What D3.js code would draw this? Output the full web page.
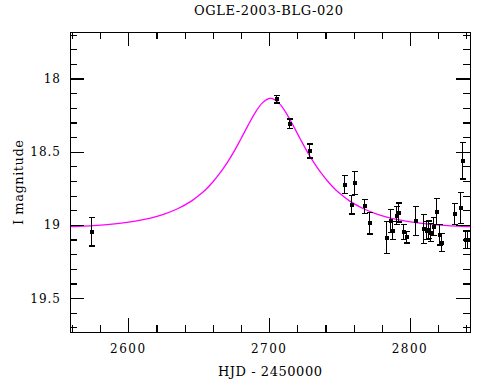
<!DOCTYPE html>
<html>
<head>
<meta charset="utf-8">
<script src="https://cdn.jsdelivr.net/npm/d3@7"></script>
<style>
  html, body { margin: 0; padding: 0; background: #fff; }
  svg { display: block; }
  text { font-family: "DejaVu Serif", "Liberation Serif", serif; fill: #000; }
</style>
</head>
<body>
<svg id="chart" width="490" height="380"></svg>
<script>
// ---- Data ----
const obsT = [2573.5, 2705.2, 2714.2, 2728.2, 2753.0, 2760.1, 2757.9, 2767.1, 2770.9, 2783.3,
              2786.1, 2787.0, 2789.9, 2791.5, 2795.0, 2796.9, 2803.3, 2809.2, 2811.1, 2812.8,
              2814.0, 2816.3, 2818.2, 2820.4, 2822.3, 2831.0, 2835.7, 2836.9, 2838.8, 2840.4];
const obsMag = [19.046, 18.142, 18.309, 18.495, 18.725, 18.715, 18.861, 18.872, 18.988, 19.087,
                18.973, 19.039, 18.937, 18.916, 19.050, 19.084, 18.973, 19.027, 19.039, 19.034,
                19.053, 19.012, 18.909, 19.068, 19.121, 18.925, 18.886, 18.561, 19.102, 19.102];
const obsErr = [0.098, 0.025, 0.033, 0.048, 0.061, 0.080, 0.064, 0.048, 0.075, 0.108,
                0.080, 0.060, 0.060, 0.065, 0.050, 0.040, 0.100, 0.100, 0.060, 0.060,
                0.060, 0.060, 0.090, 0.070, 0.060, 0.070, 0.105, 0.125, 0.060, 0.060];

// model light curve samples
const modelT = [2555, 2565, 2575, 2585, 2595, 2605, 2615, 2625, 2635, 2645, 2650, 2655, 2660, 2665,
                2670, 2675, 2680, 2685, 2690, 2695, 2700, 2701, 2702, 2707, 2712, 2717, 2722, 2727,
                2732, 2737, 2742, 2747, 2752, 2757, 2767, 2777, 2787, 2797, 2807, 2817, 2827, 2837, 2847];
const modelMag = [19.014, 19.010, 19.005, 18.998, 18.988, 18.974, 18.955, 18.928, 18.890, 18.836,
                  18.800, 18.758, 18.707, 18.647, 18.578, 18.499, 18.411, 18.320, 18.234, 18.168,
                  18.136, 18.135, 18.136, 18.168, 18.234, 18.320, 18.411, 18.499, 18.578, 18.647,
                  18.707, 18.758, 18.800, 18.836, 18.890, 18.928, 18.955, 18.974, 18.988, 18.998,
                  19.005, 19.010, 19.014];

const xMajorTicks = [2600, 2700, 2800];
const xMinorTicks = [2560, 2580, 2620, 2640, 2660, 2680, 2720, 2740, 2760, 2780, 2820, 2840];
const yMajorTicks = [18, 18.5, 19, 19.5];
const yMinorTicks = [17.7, 17.8, 17.9, 18.1, 18.2, 18.3, 18.4, 18.6, 18.7, 18.8, 18.9,
                     19.1, 19.2, 19.3, 19.4, 19.6, 19.7];
const yTickLabels = ["18", "18.5", "19", "19.5"];

const titleText = "OGLE-2003-BLG-020";
const xLabelText = "HJD - 2450000";
const yLabelText = "I magnitude";

// ---- Layout ----
const L = 70, R = 470, T = 32, B = 332;
const svg = d3.select("#chart");

const x = d3.scaleLinear().domain([2558.6, 2842.6]).range([L, R]);
const y = d3.scaleLinear().domain([17.682, 19.732]).range([T, B]);

svg.append("defs").append("clipPath").attr("id", "clip")
  .append("rect").attr("x", L).attr("y", T).attr("width", R - L).attr("height", B - T);

// model curve
const line = d3.line().x((d, i) => x(modelT[i])).y(d => y(d)).curve(d3.curveCatmullRom);
svg.append("path")
  .attr("clip-path", "url(#clip)")
  .attr("d", line(modelMag))
  .attr("fill", "none")
  .attr("stroke", "#ff00ff")
  .attr("stroke-width", 1.3);

// data with error bars
const pts = obsT.map((t, i) => ({t, m: obsMag[i], e: obsErr[i]}));
const g = svg.append("g").attr("clip-path", "url(#clip)").attr("shape-rendering", "crispEdges");
const cap = 3;
pts.forEach(p => {
  const px = Math.round(x(p.t)) + 0.5;
  const y1 = y(p.m - p.e), y2 = y(p.m + p.e);
  g.append("line").attr("x1", px).attr("x2", px).attr("y1", y1).attr("y2", y2)
    .attr("stroke", "#000").attr("stroke-width", 1.2);
  g.append("line").attr("x1", px - cap).attr("x2", px + cap).attr("y1", y1).attr("y2", y1)
    .attr("stroke", "#000").attr("stroke-width", 1.2);
  g.append("line").attr("x1", px - cap).attr("x2", px + cap).attr("y1", y2).attr("y2", y2)
    .attr("stroke", "#000").attr("stroke-width", 1.2);
  g.append("rect").attr("x", px - 2).attr("y", y(p.m) - 2).attr("width", 4).attr("height", 4)
    .attr("fill", "#000");
});

// axes: ticks inward on all sides
function styleAxis(sel) {
  sel.select(".domain").remove();
  sel.selectAll(".tick line").attr("stroke", "#000").attr("stroke-width", 1.2);
  sel.attr("shape-rendering", "crispEdges");
}
const MAJ = 14, MIN = 7;
// bottom
svg.append("g").attr("transform", `translate(0,${B})`)
  .call(d3.axisBottom(x).tickValues(xMajorTicks).tickSize(-MAJ).tickFormat(""))
  .call(styleAxis);
svg.append("g").attr("transform", `translate(0,${B})`)
  .call(d3.axisBottom(x).tickValues(xMinorTicks).tickSize(-MIN).tickFormat(""))
  .call(styleAxis);
// top
svg.append("g").attr("transform", `translate(0,${T})`)
  .call(d3.axisTop(x).tickValues(xMajorTicks).tickSize(-MAJ).tickFormat(""))
  .call(styleAxis);
svg.append("g").attr("transform", `translate(0,${T})`)
  .call(d3.axisTop(x).tickValues(xMinorTicks).tickSize(-MIN).tickFormat(""))
  .call(styleAxis);
// left
svg.append("g").attr("transform", `translate(${L},0)`)
  .call(d3.axisLeft(y).tickValues(yMajorTicks).tickSize(-MAJ).tickFormat(""))
  .call(styleAxis);
svg.append("g").attr("transform", `translate(${L},0)`)
  .call(d3.axisLeft(y).tickValues(yMinorTicks).tickSize(-MIN).tickFormat(""))
  .call(styleAxis);
// right
svg.append("g").attr("transform", `translate(${R},0)`)
  .call(d3.axisRight(y).tickValues(yMajorTicks).tickSize(-MAJ).tickFormat(""))
  .call(styleAxis);
svg.append("g").attr("transform", `translate(${R},0)`)
  .call(d3.axisRight(y).tickValues(yMinorTicks).tickSize(-MIN).tickFormat(""))
  .call(styleAxis);

// frame
svg.append("rect").attr("x", L + 0.5).attr("y", T + 0.5).attr("width", R - L).attr("height", B - T)
  .attr("fill", "none").attr("stroke", "#000").attr("stroke-width", 1.2)
  .attr("shape-rendering", "crispEdges");

// tick labels
svg.append("g").selectAll("text").data(xMajorTicks).join("text")
  .attr("x", d => x(d)).attr("y", 353)
  .attr("text-anchor", "middle")
  .attr("font-size", 12).attr("letter-spacing", 1.5)
  .text(d => d);
svg.append("g").selectAll("text").data(yMajorTicks).join("text")
  .attr("x", 61).attr("y", d => y(d) + 4.5)
  .attr("text-anchor", "end")
  .attr("font-size", 12).attr("letter-spacing", 1)
  .text((d, i) => yTickLabels[i]);

// title
svg.append("text").attr("x", 194).attr("y", 15)
  .attr("font-size", 13).attr("textLength", 149).attr("lengthAdjust", "spacing")
  .text(titleText);
// x label
svg.append("text").attr("x", 218).attr("y", 376)
  .attr("font-size", 13).attr("textLength", 104).attr("lengthAdjust", "spacing")
  .text(xLabelText);
// y label
svg.append("text").attr("transform", "translate(23,225) rotate(-90)")
  .attr("x", 0).attr("y", 0)
  .attr("font-size", 13).attr("textLength", 85).attr("lengthAdjust", "spacing")
  .text(yLabelText);
</script>
</body>
</html>
